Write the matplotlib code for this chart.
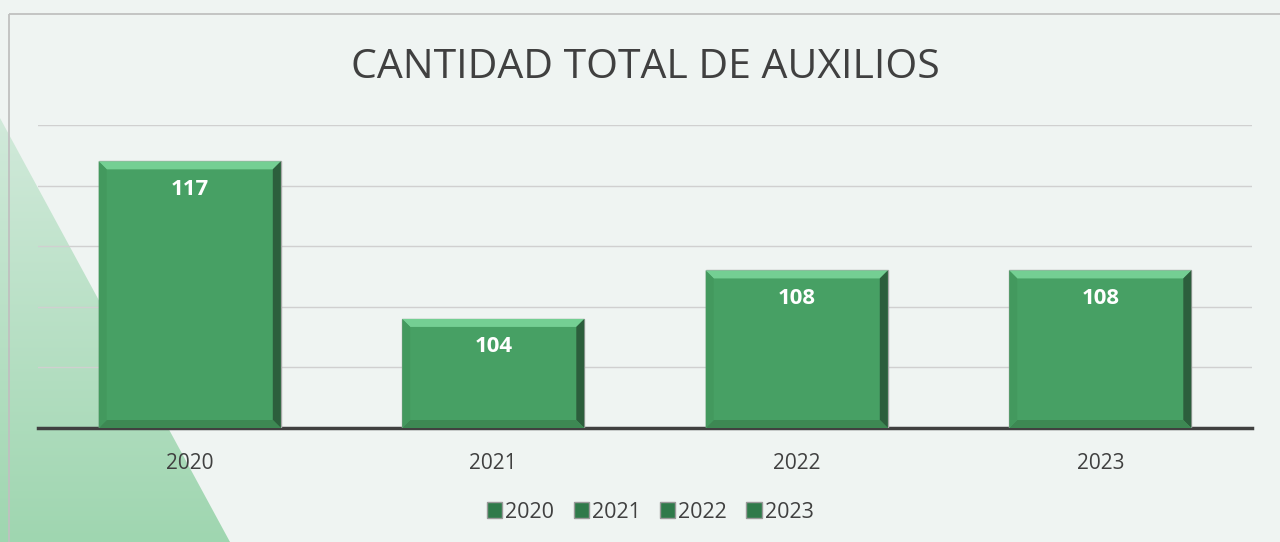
import matplotlib.pyplot as plt
import numpy as np
from matplotlib.patches import Polygon, Rectangle, Patch
from matplotlib.colors import LinearSegmentedColormap

# datos
years = ['2020', '2021', '2022', '2023']
totals = [117, 104, 108, 108]
title = 'CANTIDAD TOTAL DE AUXILIOS'

plt.rcParams['font.family'] = ['Open Sans', 'DejaVu Sans']

bg_color = '#eff4f2'
bar_color = '#47a064'
text_color = '#404040'

fig = plt.figure(figsize=(12.8, 5.42), dpi=100)
fig.patch.set_facecolor(bg_color)

# fondo: triangulo verde y marco
bg = fig.add_axes([0, 0, 1, 1], zorder=0)
bg.set_xlim(0, 1280)
bg.set_ylim(542, 0)
bg.axis('off')
cm = LinearSegmentedColormap.from_list('tri', ['#d2eadb', '#9fd6b0'])
grad = np.linspace(0, 1, 256).reshape(-1, 1)
img = bg.imshow(grad, extent=[0, 240, 542, 110], cmap=cm, aspect='auto')
tri = Polygon([(0, 118), (0, 542), (230, 542)], transform=bg.transData)
img.set_clip_path(tri)
bg.add_patch(Rectangle((8.5, 13.5), 1400, 700, fill=False, ec='#c0c0c0', lw=1.3))

# grafico
ax = fig.add_axes([38/1280, 1-428/542, (1252-38)/1280, (428-125)/542], zorder=2)
ax.patch.set_alpha(0)
x = np.arange(len(years))
w = 0.6
ax.bar(x, totals, width=w, color=bar_color, edgecolor='#a8a8a8', linewidth=1, zorder=3)
ax.set_xlim(-0.5, 3.5)
ax.set_ylim(95, 120)

# efecto bisel
dx = 8 / 303.5
dy = 8 / 12.12
y0 = 95
for i, v in enumerate(totals):
    x0, x1 = i - w/2, i + w/2
    top = [(x0, v), (x1, v), (x1-dx, v-dy), (x0+dx, v-dy)]
    right = [(x1, v), (x1, y0), (x1-dx, y0+dy), (x1-dx, v-dy)]
    bottom = [(x0, y0), (x1, y0), (x1-dx, y0+dy), (x0+dx, y0+dy)]
    left = [(x0, y0), (x0, v), (x0+dx, v-dy), (x0+dx, y0+dy)]
    for pts, c in [(top, '#74cf93'), (right, '#2c5e3c'), (bottom, '#3d8853'), (left, '#43995e')]:
        ax.add_patch(Polygon(pts, closed=True, fc=c, ec='none', zorder=4))
    ax.text(i, v - 2.3, str(v), ha='center', va='center', color='white',
            fontweight='bold', fontsize=16, zorder=5)

ax.set_yticks([100, 105, 110, 115, 120])
ax.set_yticklabels([])
ax.yaxis.grid(True, color='#d0d0d0', lw=1)
ax.set_axisbelow(True)
ax.tick_params(axis='both', length=0)
ax.set_xticks(x)
ax.set_xticklabels(years, fontsize=15, color=text_color)
ax.tick_params(axis='x', pad=18)
for s in ['top', 'right', 'left']:
    ax.spines[s].set_visible(False)
ax.spines['bottom'].set_color(text_color)
ax.spines['bottom'].set_linewidth(2.5)

fig.text(0.504, 1-68/542, title, ha='center', va='center', fontsize=29.5, color=text_color)

handles = [Patch(facecolor='#2f7a4a', edgecolor='#999999') for _ in years]
fig.legend(handles, years, loc='center', bbox_to_anchor=(0.508, 1-512/542), ncol=4,
           frameon=False, fontsize=15.5, handletextpad=0.15, columnspacing=0.9,
           handlelength=0.7, handleheight=0.7, labelcolor=text_color)

fig.savefig('out.png', dpi=100, facecolor=fig.get_facecolor())
